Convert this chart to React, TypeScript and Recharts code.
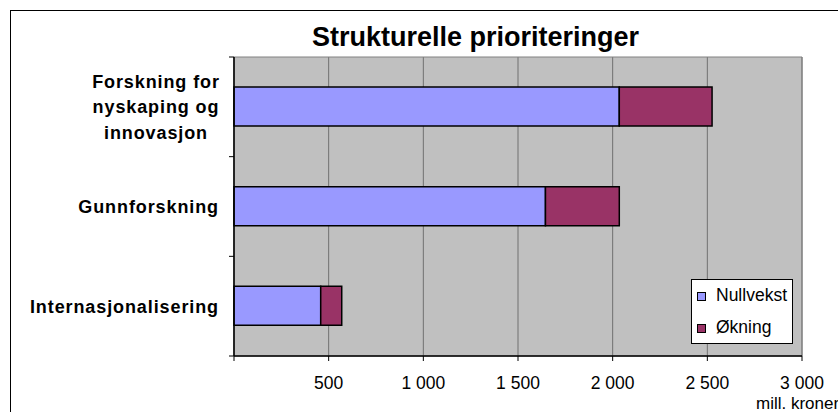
import React from 'react';
import { BarChart, Bar, XAxis, YAxis, CartesianGrid, Legend, ReferenceArea } from 'recharts';

const categories = ['Forskning for\nnyskaping og\ninnovasjon', 'Gunnforskning', 'Internasjonalisering'];
const nullvekst = [2035, 1645, 458];
const okning = [490, 390, 111];
const xTicks = [0, 500, 1000, 1500, 2000, 2500, 3000];

const data = categories.map((name, i) => ({ name, Nullvekst: nullvekst[i], 'Økning': okning[i] }));

const FONT = '"Liberation Sans", Arial, sans-serif';

const fmt = (v: number) => (v === 0 ? '' : String(v).replace(/\B(?=(\d{3})+(?!\d))/g, ' '));

const CatTick = (props: any) => {
  const { x, y, payload, index } = props;
  const half = payload && payload.offset ? payload.offset : 49.8;
  const axisX = x + 15;
  const lines = String(payload.value).split('\n');
  const lh = 25.5;
  const first = 6.5 - ((lines.length - 1) * lh) / 2;
  const multi = lines.length > 1;
  return (
    <g>
      <line x1={axisX - 5} x2={axisX} y1={y - half} y2={y - half} stroke="#000" strokeWidth={1} />
      {index === categories.length - 1 && (
        <line x1={axisX - 5} x2={axisX} y1={y + half} y2={y + half} stroke="#000" strokeWidth={1} />
      )}
      <text
        x={multi ? x - 63 : x}
        y={y + first}
        textAnchor={multi ? 'middle' : 'end'}
        fontFamily={FONT}
        fontWeight="bold"
        fontSize={18}
        letterSpacing={0.9}
        fill="#000"
      >
        {lines.map((l, i) => (
          <tspan key={i} x={multi ? x - 63 : x} y={y + first + i * lh}>
            {l}
          </tspan>
        ))}
      </text>
    </g>
  );
};

const LegendContent = (props: any) => {
  const { payload } = props;
  return (
    <div
      style={{
        width: 102,
        height: 65,
        boxSizing: 'border-box',
        background: '#fff',
        border: '1px solid #000',
        position: 'relative',
        fontFamily: FONT,
        fontSize: 17.5,
      }}
    >
      {(payload || []).map((p: any, i: number) => (
        <div key={i} style={{ position: 'absolute', left: 0, top: 0 }}>
          <div
            style={{
              position: 'absolute',
              left: 5,
              top: 12 + i * 31.5,
              width: 9,
              height: 9,
              boxSizing: 'border-box',
              background: p.color,
              border: '1px solid #000',
            }}
          />
          <div
            style={{
              position: 'absolute',
              left: 24,
              top: 5 + i * 31.5,
              lineHeight: '20px',
              whiteSpace: 'nowrap',
              color: '#000',
            }}
          >
            {p.value}
          </div>
        </div>
      ))}
    </div>
  );
};

const UnitLabel = (props: any) => {
  const { viewBox } = props;
  if (!viewBox) return null;
  return (
    <text x={viewBox.x + viewBox.width - 46} y={viewBox.y + viewBox.height - 3} fontFamily={FONT} fontSize={17} fill="#000">
      mill. kroner
    </text>
  );
};

export default function App() {
  return (
    <div style={{ position: 'absolute', left: 0, top: 0, width: 838, height: 412, background: '#fff', overflow: 'hidden' }}>
      <div
        style={{
          position: 'absolute',
          left: 10,
          top: 10,
          width: 900,
          height: 500,
          borderTop: '1.5px solid #000',
          borderLeft: '1.5px solid #000',
        }}
      />
      <div
        style={{
          position: 'absolute',
          left: 225.5,
          top: 23.7,
          width: 500,
          textAlign: 'center',
          fontFamily: FONT,
          fontWeight: 'bold',
          fontSize: 27,
          lineHeight: '27px',
          color: '#000',
        }}
      >
        Strukturelle prioriteringer
      </div>
      <div style={{ position: 'absolute', left: 0, top: 0 }}>
        <BarChart
          width={838}
          height={412}
          data={data}
          layout="vertical"
          margin={{ top: 57, right: 36, bottom: 0, left: 0 }}
          barSize={39}
        >
          <CartesianGrid horizontal={false} vertical={true} stroke="#707070" strokeWidth={1} fill="#C0C0C0" fillOpacity={1} />
          <ReferenceArea x1={0} x2={3000} fill="none" stroke="#808080" strokeWidth={1} ifOverflow="visible" />
          <XAxis
            type="number"
            domain={[0, 3000]}
            ticks={xTicks}
            tickFormatter={fmt}
            interval={0}
            height={56}
            tickSize={5}
            tickMargin={16}
            axisLine={{ stroke: '#000', strokeWidth: 1.5 }}
            tickLine={{ stroke: '#000' }}
            tick={{ fill: '#000', fontFamily: FONT, fontSize: 17.5 }}
            label={<UnitLabel />}
          />
          <YAxis
            type="category"
            dataKey="name"
            width={234}
            tickSize={0}
            tickMargin={15}
            tickLine={false}
            axisLine={{ stroke: '#000', strokeWidth: 1.5 }}
            tick={<CatTick />}
            interval={0}
          />
          <Bar dataKey="Nullvekst" stackId="a" fill="#9999FF" stroke="#000" strokeWidth={1.5} isAnimationActive={false} />
          <Bar dataKey="Økning" stackId="a" fill="#993366" stroke="#000" strokeWidth={1.5} isAnimationActive={false} />
          <Legend
            layout="vertical"
            align="center"
            verticalAlign="middle"
            content={<LegendContent />}
            wrapperStyle={{ left: 691, top: 279, width: 102, height: 65, margin: 0 }}
          />
        </BarChart>
      </div>
    </div>
  );
}
